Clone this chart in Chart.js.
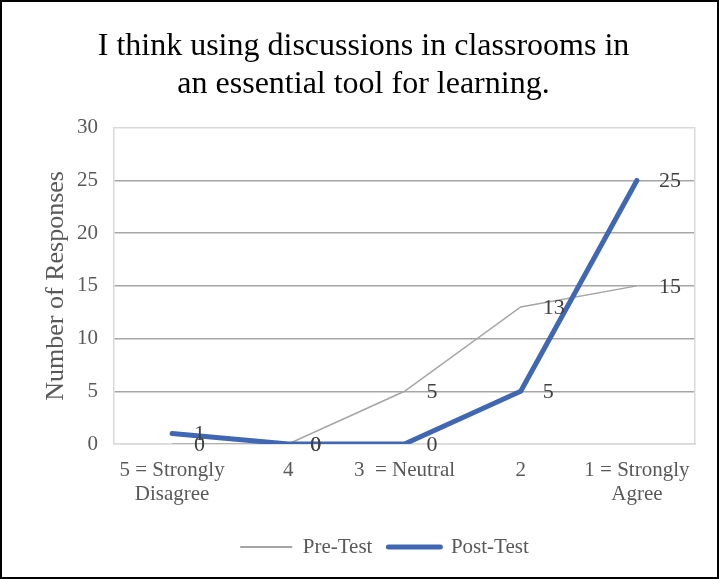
<!DOCTYPE html>
<html>
<head>
<meta charset="utf-8">
<script src="https://cdn.jsdelivr.net/npm/chart.js@4/dist/chart.umd.min.js"></script>
<style>
  html, body { margin: 0; padding: 0; background: #fff; }
  #wrap { position: absolute; left: 0; top: 0; width: 719px; height: 579px; box-sizing: border-box; border: 2px solid #000; background: #fff; }
  canvas { display: block; }
</style>
</head>
<body>
<div id="wrap"><canvas id="c" width="715" height="575"></canvas></div>
<script>
const categories = [["5 = Strongly", "Disagree"], "4", "3  = Neutral", "2", ["1 = Strongly", "Agree"]];
const preTest = [0, 0, 5, 13, 15];
const postTest = [1, 0, 0, 5, 25];
const yTicks = [0, 5, 10, 15, 20, 25, 30];
const titleLines = ["I think using discussions in classrooms in", "an essential tool for learning."];

const SERIF = "'Liberation Serif', 'Times New Roman', serif";

const labelPlugin = {
  id: 'pointLabels',
  afterDatasetsDraw(chart) {
    const ctx = chart.ctx;
    ctx.save();
    ctx.font = "22px " + SERIF;
    ctx.fillStyle = '#404040';
    ctx.textAlign = 'left';
    ctx.textBaseline = 'middle';
    chart.data.datasets.forEach((ds, i) => {
      const meta = chart.getDatasetMeta(i);
      meta.data.forEach((pt, j) => {
        ctx.fillText(String(ds.data[j]), pt.x + 22, pt.y + 1);
      });
    });
    ctx.restore();
  }
};

const legendShift = {
  id: 'legendShift',
  afterLayout(chart) {
    if (chart.legend) { chart.legend.left += 21; chart.legend.right += 21; }
  }
};

new Chart(document.getElementById('c'), {
  type: 'line',
  data: {
    labels: categories,
    datasets: [
      { label: 'Pre-Test', data: preTest, borderColor: '#a5a5a5', backgroundColor: '#a5a5a5', borderWidth: 1.5, pointRadius: 0, tension: 0, order: 2 },
      { label: 'Post-Test', data: postTest, borderColor: '#4067b2', backgroundColor: '#4067b2', borderWidth: 5, pointRadius: 0, tension: 0, borderCapStyle: 'round', borderJoinStyle: 'round', order: 1 }
    ]
  },
  options: {
    responsive: false,
    animation: false,
    layout: { padding: { left: 8, right: 0, top: 0, bottom: 9.5 } },
    plugins: {
      title: {
        display: true,
        text: titleLines,
        color: '#000',
        font: { family: SERIF, size: 32, weight: 'normal', lineHeight: 1.16 },
        padding: { top: 26.5, bottom: 25 }
      },
      legend: {
        position: 'bottom',
        labels: {
          color: '#595959',
          font: { family: SERIF, size: 21 },
          usePointStyle: true,
          pointStyle: 'line',
          pointStyleWidth: 52,
          boxHeight: 5,
          padding: 16,
          generateLabels(chart) {
            return chart.data.datasets.map((ds, i) => ({
              text: ds.label,
              fillStyle: ds.borderColor,
              strokeStyle: ds.borderColor,
              lineWidth: i === 0 ? 2 : 5,
              lineCap: i === 0 ? 'butt' : 'round',
              pointStyle: 'line',
              datasetIndex: i,
              fontColor: '#595959'
            }));
          }
        }
      },
      tooltip: { enabled: false }
    },
    scales: {
      x: {
        offset: true,
        grid: { display: false, drawTicks: false },
        border: { display: true, color: '#d9d9d9', width: 1.5 },
        ticks: { color: '#595959', font: { family: SERIF, size: 21, lineHeight: 1.15 }, padding: 14, maxRotation: 0, autoSkip: false },
        afterFit(scale) { scale.height = 76.5; }
      },
      y: {
        min: 0, max: 30,
        afterBuildTicks(scale) { scale.ticks = yTicks.map(v => ({ value: v })); },
        grid: {
          drawTicks: false,
          color: ctx => (ctx.tick && (ctx.tick.value === 0 || ctx.tick.value === 30)) ? '#d9d9d9' : '#a6a6a6',
          lineWidth: 1.5
        },
        border: { display: true, color: '#d9d9d9', width: 1.5 },
        ticks: { color: '#595959', font: { family: SERIF, size: 21 }, padding: 16 },
        title: { display: true, text: 'Number of Responses', color: '#595959', font: { family: SERIF, size: 26 }, padding: { top: 31, bottom: 0 } },
        afterFit(scale) { scale.width = 104; }
      },
      y2: {
        position: 'right',
        min: 0, max: 30,
        grid: { display: false, drawOnChartArea: false, drawTicks: false },
        border: { display: true, color: '#d9d9d9', width: 1.5 },
        ticks: { display: false },
        afterFit(scale) { scale.width = 22; }
      }
    }
  },
  plugins: [labelPlugin, legendShift]
});
</script>
</body>
</html>
